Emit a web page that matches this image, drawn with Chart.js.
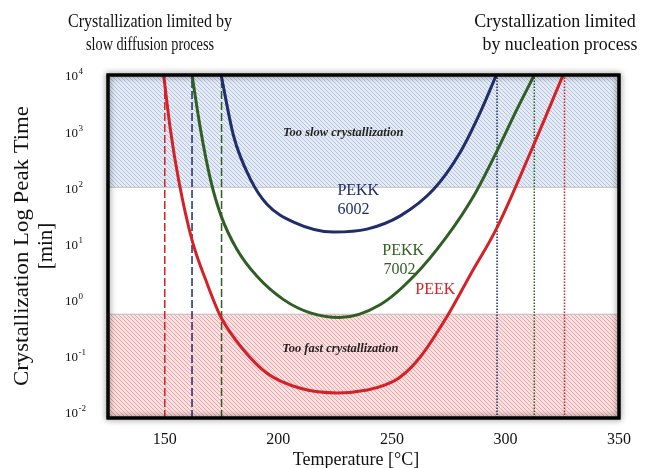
<!DOCTYPE html>
<html>
<head>
<meta charset="utf-8">
<script src="https://cdn.jsdelivr.net/npm/chart.js@4.4.1/dist/chart.umd.min.js"></script>
<style>
html, body { margin: 0; padding: 0; background: #fff; }
#contenedor { width: 646px; height: 468px; position: relative; }
</style>
</head>
<body>
<div id="contenedor"><canvas id="grafico"></canvas></div>
<script>
// ticks
var xTicks = [150, 200, 250, 300, 350];
var yTicks = [0.01, 0.1, 1, 10, 100, 1000, 10000];
var yTickExp = ["-2", "-1", "0", "1", "2", "3", "4"];

// PEKK 6002
var pekk6002Temp = [174.8, 180.3, 187.7, 195, 206.7, 224.3, 239, 253.7, 268.4, 280.1, 288.9, 296];
var pekk6002Tiempo = [10000, 820, 140, 50, 24, 16, 18, 31, 92, 420, 2150, 10000];

// PEKK 7002
var pekk7002Temp = [162, 165.7, 170.1, 174.8, 181.8, 190.6, 202.3, 214.1, 227, 245, 259.6, 274.3, 286, 296.3, 305.1, 312.7];
var pekk7002Tiempo = [10000, 1100, 138, 31, 7.8, 2.6, 1.0, 0.58, 0.48, 0.82, 2.6, 13.5, 70, 446, 2460, 10000];

// PEEK
var peekTemp = [149.5, 152.5, 156.1, 162, 168.6, 174.8, 184.7, 195, 209.7, 226, 239.2, 247.1, 253.7, 262.5, 274.4, 284.5, 296.4, 310.9, 325.4];
var peekTiempo = [10000, 1050, 135, 11.5, 1.95, 0.48, 0.127, 0.049, 0.0264, 0.0218, 0.0246, 0.0302, 0.0419, 0.0953, 0.51, 2.75, 19.6, 408, 10000];

// limites verticales (rojo, azul, verde)
var limitesDifusion = [150, 162, 175];
var limitesNucleacion = [326, 296.3, 312.7];

// zonas
var limiteLento = 100;
var limiteRapido = 0.55;

var xMin = 125, xMax = 350;
var yMin = 0.0078, yMax = 10000;

var colores = { rojo: '#d42027', azul: '#1f2d6b', verde: '#2f5f22' };
var fuente = "'Liberation Serif', 'Times New Roman', serif";

function puntos(xs, ys) {
    return xs.map(function (x, i) { return { x: x, y: ys[i] }; });
}

function trama(fondo, linea) {
    var c = document.createElement('canvas');
    c.width = 4; c.height = 4;
    var g = c.getContext('2d');
    g.fillStyle = fondo;
    g.fillRect(0, 0, 4, 4);
    g.strokeStyle = linea;
    g.lineWidth = 1;
    g.beginPath();
    g.moveTo(-1, -1); g.lineTo(5, 5);
    g.moveTo(-1, 3); g.lineTo(1, 5);
    g.moveTo(3, -1); g.lineTo(5, 1);
    g.stroke();
    return g.createPattern(c, 'repeat');
}

function vertical(x, color, dash, etiqueta) {
    return {
        label: etiqueta,
        data: [{ x: x, y: yMin }, { x: x, y: yMax }],
        borderColor: color,
        borderWidth: 1.5,
        borderDash: dash,
        pointRadius: 0,
        fill: false,
        order: 5
    };
}

function curva(xs, ys, color, etiqueta) {
    return {
        label: etiqueta,
        data: puntos(xs, ys),
        borderColor: color,
        borderWidth: 3,
        pointRadius: 0,
        cubicInterpolationMode: 'monotone',
        fill: false,
        order: 0
    };
}

var colorVert = [colores.rojo, colores.azul, colores.verde];

var datasets = [
    {
        label: 'lento',
        data: [{ x: xMin, y: limiteLento }, { x: xMax, y: limiteLento }],
        borderColor: 'rgba(170,170,170,0.7)',
        borderWidth: 1,
        backgroundColor: trama('#e6ecf5', '#b3c3df'),
        pointRadius: 0,
        fill: 'end',
        order: 10
    },
    {
        label: 'rapido',
        data: [{ x: xMin, y: limiteRapido }, { x: xMax, y: limiteRapido }],
        borderColor: 'rgba(170,170,170,0.7)',
        borderWidth: 1,
        backgroundColor: trama('#fbe2e2', '#eea3a8'),
        pointRadius: 0,
        fill: 'start',
        order: 10
    }
];
limitesDifusion.forEach(function (x, i) {
    datasets.push(vertical(x, colorVert[i], [8, 3], 'dif' + i));
});
limitesNucleacion.forEach(function (x, i) {
    datasets.push(vertical(x, colorVert[i], [1.5, 1.5], 'nuc' + i));
});
datasets.push(curva(pekk6002Temp, pekk6002Tiempo, colores.azul, 'PEKK 6002'));
datasets.push(curva(pekk7002Temp, pekk7002Tiempo, colores.verde, 'PEKK 7002'));
datasets.push(curva(peekTemp, peekTiempo, colores.rojo, 'PEEK'));

var textos = {
    id: 'textos',
    afterDraw: function (chart) {
        var ctx = chart.ctx;
        var xs = chart.scales.x, ys = chart.scales.y;
        var a = chart.chartArea;
        ctx.save();

        // marco con sombra
        ctx.shadowColor = 'rgba(0,0,0,0.6)';
        ctx.shadowBlur = 6;
        ctx.strokeStyle = '#000';
        ctx.lineWidth = 3;
        ctx.strokeRect(a.left, a.top, a.right - a.left, a.bottom - a.top);
        ctx.shadowBlur = 0;
        ctx.shadowColor = 'transparent';
        ctx.strokeRect(a.left, a.top, a.right - a.left, a.bottom - a.top);

        ctx.fillStyle = '#111';
        // ticks x
        ctx.font = '16px ' + fuente;
        ctx.textAlign = 'center';
        ctx.textBaseline = 'middle';
        xTicks.forEach(function (t) {
            ctx.fillText(String(t), xs.getPixelForValue(t), 440);
        });
        // ticks y
        yTicks.forEach(function (t, i) {
            var py = ys.getPixelForValue(t);
            ctx.font = '13px ' + fuente;
            ctx.textAlign = 'right';
            ctx.textBaseline = 'middle';
            ctx.fillText('10', 78, py + 2);
            ctx.font = '9px ' + fuente;
            ctx.textAlign = 'left';
            ctx.fillText(yTickExp[i], 78.5, py - 3);
        });

        // titulos de ejes
        ctx.font = '18px ' + fuente;
        ctx.textAlign = 'center';
        ctx.textBaseline = 'middle';
        ctx.fillText('Temperature [°C]', 356, 460);
        ctx.save();
        ctx.translate(22, 246);
        ctx.rotate(-Math.PI / 2);
        ctx.font = '21px ' + fuente;
        var ancho = ctx.measureText('Crystallization Log Peak Time').width;
        ctx.save();
        ctx.scale(280 / ancho, 1);
        ctx.fillText('Crystallization Log Peak Time', 0, 0);
        ctx.restore();
        ctx.fillText('[min]', 0, 24);
        ctx.restore();

        // titulos superiores
        ctx.font = '18px ' + fuente;
        ctx.textAlign = 'center';
        ctx.fillText('Crystallization limited by', 150, 22, 164);
        ctx.fillText('slow diffusion process', 150, 45, 128);
        ctx.fillText('Crystallization limited', 555, 22, 166);
        ctx.fillText('by nucleation process', 560, 45, 155);

        // zonas
        ctx.font = 'italic bold 12.5px ' + fuente;
        ctx.fillStyle = '#222';
        ctx.fillText('Too slow crystallization', xs.getPixelForValue(228.6), ys.getPixelForValue(955));
        ctx.fillText('Too fast crystallization', xs.getPixelForValue(227.3), ys.getPixelForValue(0.133));

        // nombres de curvas
        ctx.font = '16px ' + fuente;
        ctx.textAlign = 'left';
        ctx.fillStyle = colores.azul;
        ctx.fillText('PEKK', xs.getPixelForValue(226), ys.getPixelForValue(85));
        ctx.fillText('6002', xs.getPixelForValue(226), ys.getPixelForValue(39));
        ctx.fillStyle = colores.verde;
        ctx.fillText('PEKK', xs.getPixelForValue(245.8), ys.getPixelForValue(7.3));
        ctx.fillText('7002', xs.getPixelForValue(246.3), ys.getPixelForValue(3.4));
        ctx.fillStyle = colores.rojo;
        ctx.fillText('PEEK', xs.getPixelForValue(260.3), ys.getPixelForValue(1.5));
        ctx.restore();
    }
};

var ctx = document.getElementById("grafico").getContext("2d");
window.myChart = new Chart(ctx, {
    type: 'line',
    data: { datasets: datasets },
    options: {
        responsive: true,
        maintainAspectRatio: false,
        animation: false,
        layout: { padding: { left: 108, right: 27, top: 75, bottom: 50 } },
        plugins: {
            legend: { display: false },
            tooltip: { enabled: false },
            title: { display: false }
        },
        scales: {
            x: { type: 'linear', min: xMin, max: xMax, display: false },
            y: { type: 'logarithmic', min: yMin, max: yMax, display: false }
        }
    },
    plugins: [textos]
});
</script>
</body>
</html>
